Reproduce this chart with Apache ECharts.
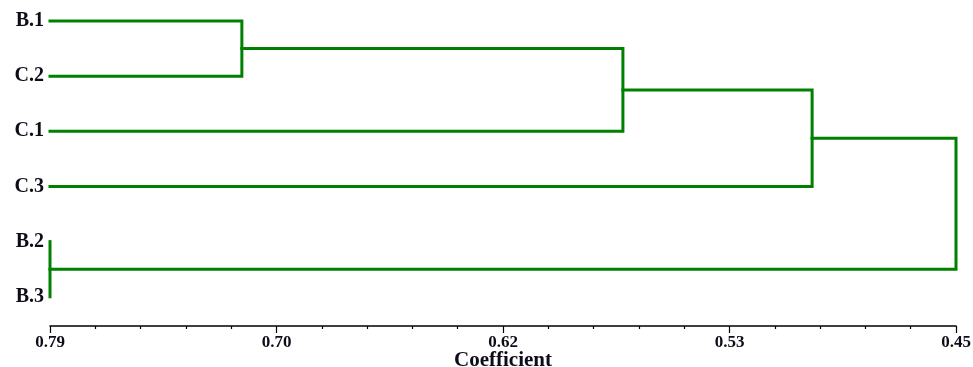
<!DOCTYPE html>
<html><head><meta charset="utf-8">
<script src="https://cdn.jsdelivr.net/npm/echarts@6/dist/echarts.min.js"></script>
<style>html,body{margin:0;padding:0;background:#fff}#c{width:973px;height:367px}</style>
</head><body><div id="c"></div>
<script>
// Leaf order (top to bottom)
var leaves = ['B.1', 'C.2', 'C.1', 'C.3', 'B.2', 'B.3'];
// Merges: [left node, right node, coefficient]; nodes >= leaves.length refer to earlier merges
var mergeLeft  = [0, 6, 7, 4, 8];
var mergeRight = [1, 2, 3, 5, 9];
var mergeCoef  = [0.718, 0.575, 0.504, 0.79, 0.45];
// Axis
var coefMax = 0.79, coefMin = 0.45;
var tickLabels = ['0.79', '0.70', '0.62', '0.53', '0.45'];

var step = (coefMax - coefMin) / (tickLabels.length - 1);
function dist(c) { return +(coefMax - c).toFixed(6); }

var nodeY = [], nodeX = [];
for (var i = 0; i < leaves.length; i++) { nodeY.push(i); nodeX.push(coefMax); }
var series = [];
var style = { color: '#008000', width: 3, cap: 'square', join: 'miter' };
for (var m = 0; m < mergeCoef.length; m++) {
  var a = mergeLeft[m], b = mergeRight[m], h = mergeCoef[m];
  var pts = [
    [dist(nodeX[a]), nodeY[a]],
    [dist(h), nodeY[a]],
    [dist(h), nodeY[b]],
    [dist(nodeX[b]), nodeY[b]]
  ];
  series.push({ type: 'line', data: pts, symbol: 'none', clip: false, lineStyle: style, silent: true });
  nodeY.push((nodeY[a] + nodeY[b]) / 2);
  nodeX.push(h);
}

var font = 'Liberation Serif';
var chart = echarts.init(document.getElementById('c'));
chart.setOption({
  animation: false,
  grid: { left: 50, right: 17, top: 21, bottom: 41, containLabel: false, outerBoundsMode: 'none' },
  xAxis: {
    type: 'value', min: 0, max: +(coefMax - coefMin).toFixed(6), interval: +step.toFixed(6),
    axisLine: { onZero: false, lineStyle: { color: '#000', width: 1.5 } },
    axisTick: { length: 7, lineStyle: { color: '#000', width: 1.2 } },
    minorTick: { show: true, splitNumber: 5, length: 3, lineStyle: { color: '#000', width: 1.2 } },
    splitLine: { show: false },
    axisLabel: {
      margin: 8, fontFamily: font, fontWeight: 'bold', fontSize: 17, color: '#0d0d1a',
      formatter: function (v) { return tickLabels[Math.round(v / step)]; }
    },
    name: 'Coefficient', nameLocation: 'middle', nameGap: 24, nameMoveOverlap: false,
    nameTextStyle: { fontFamily: font, fontWeight: 'bold', fontSize: 21, color: '#0d0d1a' }
  },
  yAxis: {
    type: 'value', min: 0, max: 5.53, interval: 1, inverse: true,
    axisLine: { show: false }, axisTick: { show: false }, splitLine: { show: false },
    axisLabel: {
      margin: 6, fontFamily: font, fontWeight: 'bold', fontSize: 20, color: '#0d0d1a',
      formatter: function (v) { return (Math.abs(v - Math.round(v)) < 1e-6 && leaves[Math.round(v)]) ? leaves[Math.round(v)] : ''; }
    }
  },
  series: series
});
</script></body></html>
